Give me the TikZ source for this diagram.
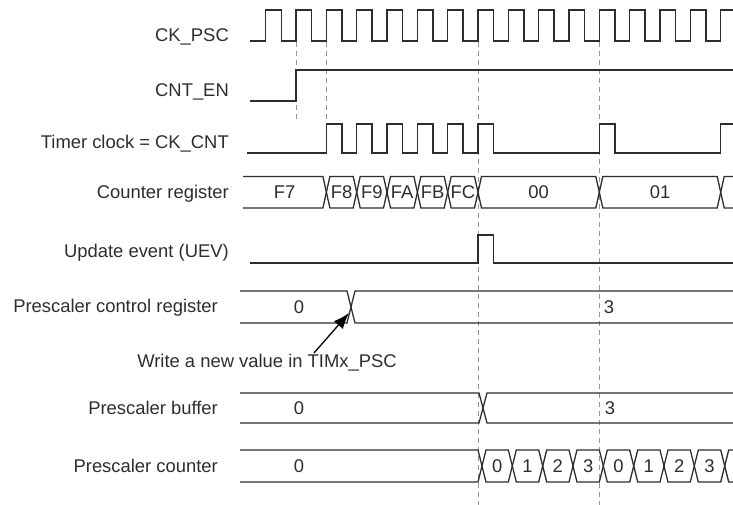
\documentclass[tikz,border=0pt]{standalone}
\usepackage{fontspec}
\setmainfont{Liberation Sans}
\usetikzlibrary{arrows.meta}
\definecolor{wavegray}{RGB}{45,45,45}
\definecolor{guidegray}{RGB}{150,150,150}

% one bus value: x1, x2, top, bottom, half width of the crossing
\newcommand{\busseg}[5]{%
  \draw[bus] ({#1+#5},#3) -- ({#2-#5},#3) -- (#2,{(#3+#4)/2}) -- ({#2-#5},#4)
    -- ({#1+#5},#4) -- (#1,{(#3+#4)/2}) -- cycle;}

\begin{document}
\begin{tikzpicture}[x=1pt, y=-1pt,
    sig/.style={line width=1.4pt, wavegray},
    bus/.style={line width=1.3pt, wavegray},
    guide/.style={guidegray, line width=1pt, dash pattern=on 5pt off 4pt},
    lab/.style={anchor=base east, inner sep=0pt, text=wavegray, font=\fontsize{18.4}{22}\selectfont},
    val/.style={anchor=base, inner sep=0pt, text=wavegray, font=\fontsize{18.4}{22}\selectfont},
    note/.style={-{Latex[length=16pt, width=12pt]}, line width=1.3pt, black},
]
\useasboundingbox (0,0) rectangle (733,505);

% signal names
\node[lab] (lckpsc) at (229,41.7) {CK\_PSC};
\node[lab] (lcnten) at (229,96.7) {CNT\_EN};
\node[lab] (ltimer) at (229,149) {Timer clock = CK\_CNT};
\node[lab] (lcount) at (229,198.3) {Counter register};
\node[lab] (luev) at (229,257.3) {Update event (UEV)};
\node[lab] (lpctrl) at (218,312.7) {Prescaler control register};
\node[lab] (lpbuf) at (218,414.3) {Prescaler buffer};
\node[lab] (lpcnt) at (218,472.3) {Prescaler counter};

% guides
\draw[guide] (296,42) -- (296,122);
\draw[guide] (326.4,42) -- (326.4,124);
\draw[guide] (478,42) -- (478,505);
\draw[guide] (599.3,42) -- (599.3,505);

% clocks
\draw[sig] (250,41) \foreach \k in {0,...,14} {
    -- ({265.7+30.33*\k},41) -- ({265.7+30.33*\k},10) -- ({281.2+30.33*\k},10) -- ({281.2+30.33*\k},41)}
  -- (720.7,41) -- (720.7,10) -- (733,10);
\draw[sig] (250,101) -- (296,101) -- (296,70) -- (733,70);
\draw[sig] (247,153) \foreach \k in {2,3,4,5,6,7,11} {
    -- ({265.7+30.33*\k},153) -- ({265.7+30.33*\k},124) -- ({281.2+30.33*\k},124) -- ({281.2+30.33*\k},153)}
  -- (720.7,153) -- (720.7,124) -- (733,124);

% counter register
\draw[bus] (243,176.5) -- (322.9,176.5) -- (326.4,192.25) -- (322.9,208) -- (243,208);
\node[val] (cntF7) at (284.7,198.9) {F7};
\foreach \a/\b/\v in {326.4/356.7/F8, 356.7/387.0/F9, 387.0/417.4/FA, 417.4/447.7/FB,
    447.7/478.0/FC, 478.0/599.3/00, 599.3/720.7/01} {
  \busseg{\a}{\b}{176.5}{208}{3.5}
  \node[val] (cnt\v) at ({(\a+\b)/2},198.9) {\v};
}
\draw[bus] (733,176.5) -- (724.2,176.5) -- (720.7,192.25) -- (724.2,208) -- (733,208);

% update event
\draw[sig] (250,263) -- (478,263) -- (478,235) -- (493.5,235) -- (493.5,263) -- (733,263);

% prescaler control register
\draw[bus] (240,291) -- (347,291) -- (351,307) -- (347,323) -- (240,323);
\draw[bus] (733,291) -- (355,291) -- (351,307) -- (355,323) -- (733,323);
\node[val] (pctrl0) at (299,313.6) {0};
\node[val] (pctrl3) at (609,313.6) {3};

\node[val] (wnote) at (267,367.7) {Write a new value in TIMx\_PSC};
\coordinate (wtail) at (314,353);
\coordinate (wtip) at (349,313);
\draw[note] (wtail) -- (wtip);

% prescaler buffer
\draw[bus] (240,393) -- (479,393) -- (483,408) -- (479,423) -- (240,423);
\draw[bus] (733,393) -- (487,393) -- (483,408) -- (487,423) -- (733,423);
\node[val] (pbuf0) at (299,414.6) {0};
\node[val] (pbuf3) at (610,414.6) {3};

% prescaler counter
\draw[bus] (240,450) -- (478,450) -- (482,466) -- (478,482) -- (240,482);
\node[val] (pcnt) at (299,472.6) {0};
\foreach \a/\b/\v/\n in {482.0/512.3/0/a, 512.3/542.7/1/b, 542.7/573.0/2/c, 573.0/603.3/3/d,
    603.3/633.7/0/e, 633.7/664.0/1/f, 664.0/694.3/2/g, 694.3/724.7/3/h} {
  \busseg{\a}{\b}{450}{482}{4}
  \node[val] (pcnt\n) at ({(\a+\b)/2},472.6) {\v};
}
\draw[bus] (733,450) -- (728.7,450) -- (724.7,466) -- (728.7,482) -- (733,482);

\end{tikzpicture}
\end{document}
